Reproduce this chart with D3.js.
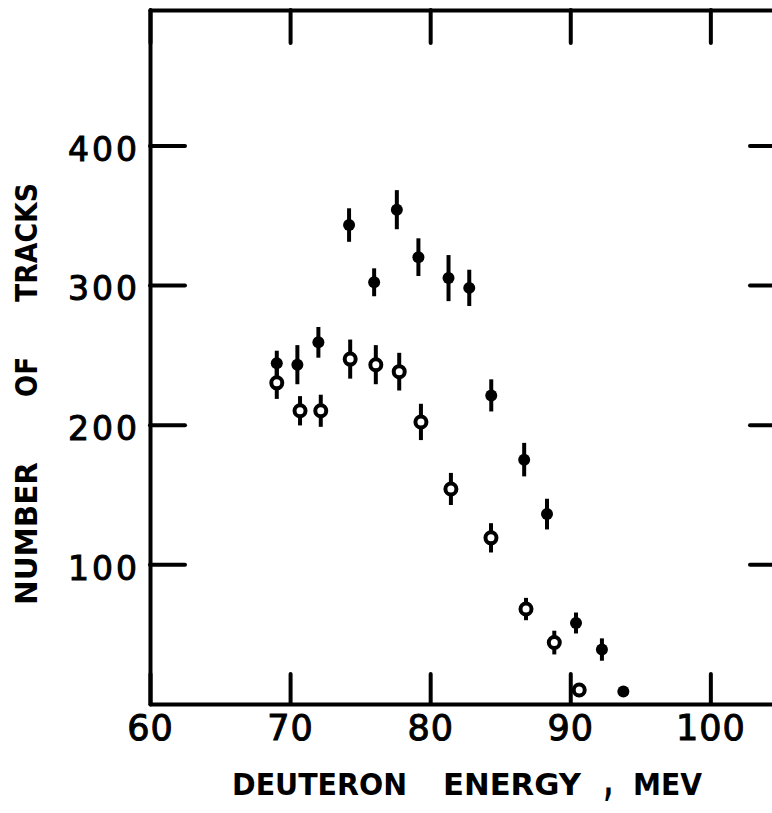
<!DOCTYPE html>
<html>
<head>
<meta charset="utf-8">
<script src="https://cdn.jsdelivr.net/npm/d3@7"></script>
<style>
  html, body { margin: 0; padding: 0; background: #fff; }
  svg { display: block; }
  .axis path, .axis line { stroke: #000; stroke-width: 4; stroke-linecap: round; }
  .axis text { font-family: 'DejaVu Sans', sans-serif; fill: #000; stroke: #000; stroke-width: 1; }
  .title { font-family: 'DejaVu Sans', sans-serif; font-weight: bold; fill: #000; }
</style>
</head>
<body>
<div id="chart"></div>
<script>
// solid points (upper series)
const energyFilled = [69.05, 70.52, 72.02, 74.21, 76.0, 77.62, 79.16, 81.31, 82.79, 84.36, 86.71, 88.34, 90.41, 92.26, 93.79]
const tracksFilled = [244, 243, 259, 343, 302, 354, 320, 305, 298, 221, 175, 136, 58, 39, 9]
const errFilled = [9, 14, 11, 12, 10, 14, 13.5, 16.5, 13, 11.5, 12, 11, 7.5, 8, 3]

// open points (lower series)
const energyOpen = [69.05, 70.71, 72.19, 74.29, 76.12, 77.79, 79.34, 81.48, 84.34, 86.84, 88.86, 90.64]
const tracksOpen = [230, 210, 210, 247, 243, 238, 202, 154, 119, 68, 44, 10]
const errOpen = [11.5, 10.5, 11.5, 14, 14, 13.5, 13, 11.5, 10.5, 8, 8.5, 0]

const xTicks = [60, 70, 80, 90, 100]
const yTicks = [100, 200, 300, 400]

// title words, hand lettered with wide gaps
const xTitleWords = ['DEUTERON', 'ENERGY', ',', 'MEV']
const xTitleSpans = [[232, 407], [443, 581], [604, 613], [633, 702]]
const yTitleWords = ['NUMBER', 'OF', 'TRACKS']
const yTitleSpans = [[605, 462], [397, 357], [302, 183]]

const width = 772
const height = 813

const x = d3.scaleLinear().domain([60, 105.4]).range([150, 786])
const y = d3.scaleLinear().domain([0, 497]).range([704, 10])

const svg = d3.select('#chart').append('svg')
  .attr('width', width)
  .attr('height', height)

const toPoints = (es, vs, errs) => es.map((e, i) => ({ e: e, v: vs[i], err: errs[i] }))
const filled = toPoints(energyFilled, tracksFilled, errFilled)
const open = toPoints(energyOpen, tracksOpen, errOpen)

// frame with inward ticks on all four sides
svg.append('g').attr('class', 'axis')
  .attr('transform', `translate(0,${y(0)})`)
  .call(d3.axisBottom(x).tickValues(xTicks).tickSizeInner(-30).tickSizeOuter(0).tickPadding(11))
  .call(g => g.selectAll('text').attr('font-size', 35).attr('letter-spacing', 1))

svg.append('g').attr('class', 'axis')
  .attr('transform', `translate(0,${y(497)})`)
  .call(d3.axisTop(x).tickValues(xTicks).tickSizeInner(-33).tickSizeOuter(0).tickFormat(''))

svg.append('g').attr('class', 'axis')
  .attr('transform', `translate(${x(60)},0)`)
  .call(d3.axisLeft(y).tickValues(yTicks).tickSizeInner(-35).tickSizeOuter(0).tickPadding(10))
  .call(g => g.selectAll('text').attr('font-size', 33).attr('dy', '0.45em').attr('letter-spacing', 3))

svg.append('g').attr('class', 'axis')
  .attr('transform', `translate(${x(105.4)},0)`)
  .call(d3.axisRight(y).tickValues(yTicks).tickSizeInner(-36).tickSizeOuter(0).tickFormat(''))

// error bars
svg.append('g').selectAll('line')
  .data(filled.concat(open))
  .enter().append('line')
  .attr('x1', d => x(d.e))
  .attr('x2', d => x(d.e))
  .attr('y1', d => y(d.v - d.err))
  .attr('y2', d => y(d.v + d.err))
  .attr('stroke', '#000')
  .attr('stroke-width', 4)

svg.append('g').selectAll('circle')
  .data(open)
  .enter().append('circle')
  .attr('cx', d => x(d.e))
  .attr('cy', d => y(d.v))
  .attr('r', 5.5)
  .attr('fill', '#fff')
  .attr('stroke', '#000')
  .attr('stroke-width', 4)

svg.append('g').selectAll('circle')
  .data(filled)
  .enter().append('circle')
  .attr('cx', d => x(d.e))
  .attr('cy', d => y(d.v))
  .attr('r', 6)
  .attr('fill', '#000')

// axis titles
svg.append('g').selectAll('text')
  .data(xTitleWords)
  .enter().append('text')
  .attr('class', 'title')
  .attr('x', (d, i) => xTitleSpans[i][0])
  .attr('y', 795)
  .attr('font-size', d => d === ',' ? 40 : 31)
  .attr('textLength', (d, i) => xTitleSpans[i][1] - xTitleSpans[i][0])
  .attr('lengthAdjust', 'spacingAndGlyphs')
  .text(d => d)

svg.append('g').selectAll('text')
  .data(yTitleWords)
  .enter().append('text')
  .attr('class', 'title')
  .attr('transform', (d, i) => `translate(37,${yTitleSpans[i][0]}) rotate(-90)`)
  .attr('font-size', 31)
  .attr('textLength', (d, i) => yTitleSpans[i][0] - yTitleSpans[i][1])
  .attr('lengthAdjust', 'spacingAndGlyphs')
  .text(d => d)
</script>
</body>
</html>
